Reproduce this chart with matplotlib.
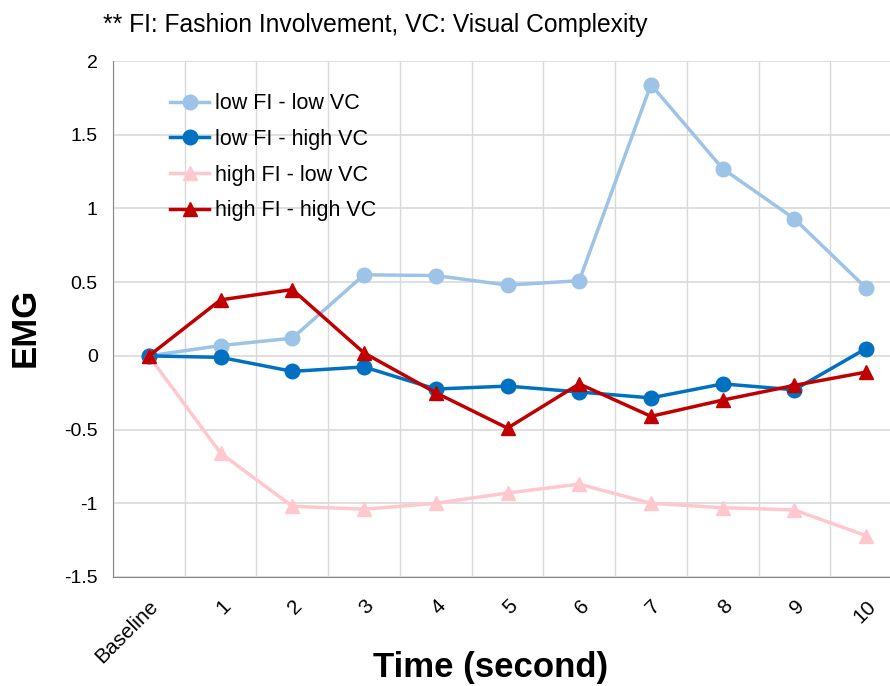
import numpy as np
import matplotlib
matplotlib.use("Agg")
from matplotlib import pyplot as plt
from matplotlib.ticker import MultipleLocator

plt.rcParams['font.family'] = ['Liberation Sans', 'DejaVu Sans']

# data
time_labels = ["Baseline", "1", "2", "3", "4", "5", "6", "7", "8", "9", "10"]
low_fi_low_vc = [0, 0.07, 0.12, 0.55, 0.545, 0.48, 0.51, 1.84, 1.27, 0.93, 0.46]
low_fi_high_vc = [0, -0.01, -0.105, -0.075, -0.225, -0.205, -0.245, -0.285, -0.19, -0.23, 0.05]
high_fi_low_vc = [0, -0.66, -1.02, -1.04, -1.0, -0.93, -0.87, -1.0, -1.03, -1.045, -1.22]
high_fi_high_vc = [0, 0.38, 0.45, 0.02, -0.25, -0.49, -0.19, -0.41, -0.30, -0.20, -0.11]

fig = plt.figure(figsize=(8.9, 6.86), dpi=100)
ax = fig.add_axes([113/890, 0.1589, (902-113)/890, 0.911-0.1589])

x = np.arange(len(time_labels))
ax.plot(x, low_fi_low_vc, color="#9DC3E6", marker="o", markersize=10.5, lw=2.5, label="low FI - low VC")
ax.plot(x, low_fi_high_vc, color="#0070C0", marker="o", markersize=10.5, lw=2.5, label="low FI - high VC")
ax.plot(x, high_fi_low_vc, color="#FFC7CE", marker="^", markersize=9.5, lw=2.5, label="high FI - low VC")
ax.plot(x, high_fi_high_vc, color="#C00000", marker="^", markersize=10.5, lw=2.5, label="high FI - high VC")

ax.set_xlim(-0.5, 10.5)
ax.set_ylim(-1.5, 2)
ax.set_xticks(x)
ax.set_xticklabels(time_labels, rotation=45, ha="right", rotation_mode="anchor", fontsize=15)
ax.xaxis.set_minor_locator(MultipleLocator(1, offset=0.5))
ax.set_yticks([-1.5, -1, -0.5, 0, 0.5, 1, 1.5, 2])
ax.set_yticklabels(["-1.5", "-1", "-0.5", "0", "0.5", "1", "1.5", "2"], fontsize=14)
ax.tick_params(axis="x", which="both", length=0, pad=14)
ax.tick_params(axis="y", which="both", length=0, pad=11)
ax.grid(True, which="minor", axis="x", color="#D9D9D9", lw=1)
ax.grid(True, which="major", axis="y", color="#D9D9D9", lw=1.2)
ax.set_axisbelow(True)
for s in ["top", "right"]:
    ax.spines[s].set_visible(False)
ax.spines["left"].set_color("#868686")
ax.spines["bottom"].set_color("#868686")

ax.set_ylabel("EMG", fontsize=25, fontweight="bold")
ax.yaxis.set_label_coords((25-113)/(902-113), (577-327)/(577-61))
ax.yaxis.label.set_va("center")
ax.set_xlabel("Time (second)", fontsize=25, fontweight="bold")
ax.xaxis.set_label_coords((491-113)/(902-113), -(668-577)/(577-61))
ax.xaxis.label.set_va("center")

ax.legend(loc="upper left", bbox_to_anchor=(0.048, 0.975), frameon=False, fontsize=15.5,
          handlelength=1.8, labelspacing=0.68, handletextpad=0.3)

fig.text(103/890, 1 - 25/686, "** FI: Fashion Involvement, VC: Visual Complexity",
         fontsize=17.7, va="center", ha="left")

fig.savefig("out.png", dpi=100)
